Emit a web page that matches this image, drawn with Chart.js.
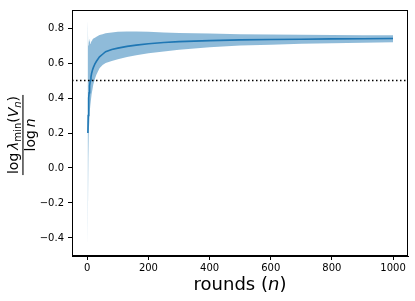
<!DOCTYPE html>
<html>
<head>
<meta charset="utf-8">
<script src="https://cdn.jsdelivr.net/npm/chart.js@4"></script>
<style>
html,body{margin:0;padding:0;background:#fff;}
#wrap{width:415px;height:301px;position:relative;}
</style>
</head>
<body>
<div id="wrap"><canvas id="c" width="415" height="301"></canvas></div>
<script>
// ---- data ----
const rounds = [1,2,3,4,5,6,7,8,10,12,14,17,20,25,30,40,50,60,80,100,130,160,200,250,300,400,500,600,700,800,900,1000];
const meanRatio = [0.20,0.20,0.30,0.36,0.40,0.43,0.45,0.47,0.50,0.52,0.54,0.56,0.575,0.595,0.61,0.635,0.65,0.665,0.677,0.685,0.695,0.702,0.71,0.717,0.722,0.728,0.732,0.734,0.736,0.738,0.739,0.74];
const lowerRatio = [-0.44,-0.30,0.05,0.15,0.22,0.26,0.29,0.32,0.36,0.39,0.42,0.45,0.48,0.51,0.535,0.57,0.588,0.60,0.612,0.621,0.635,0.645,0.656,0.666,0.676,0.69,0.70,0.705,0.71,0.713,0.716,0.718];
const upperRatio = [0.84,0.80,0.70,0.73,0.71,0.74,0.72,0.73,0.71,0.73,0.72,0.735,0.74,0.745,0.75,0.76,0.765,0.77,0.775,0.778,0.78,0.78,0.778,0.775,0.772,0.768,0.765,0.763,0.762,0.76,0.759,0.758];
const threshold = 0.5;
const xTicks = [0,200,400,600,800,1000];
const yTicks = [-0.4,-0.2,0.0,0.2,0.4,0.6,0.8];
const xRange = [-50, 1049];
const yRange = [-0.503, 0.903];

const FONT = "'DejaVu Sans', sans-serif";
// mean line starts at the second round
const pts = (ys, from) => rounds.map((n,i)=>({x:n,y:ys[i]})).slice(from||0);

const framePlugin = {
  id:'frame',
  afterDraw(chart){
    const {ctx, chartArea:a} = chart;
    ctx.save();
    ctx.strokeStyle = '#000';
    ctx.lineWidth = 1;
    ctx.strokeRect(a.left+0.5, a.top+0.5, a.right-a.left-1, a.bottom-a.top-1);
    // x label
    ctx.fillStyle = '#000';
    ctx.textBaseline = 'alphabetic';
    const xl = [['rounds (', `18px ${FONT}`], ['n', `italic 18px ${FONT}`], [')', `18px ${FONT}`]];
    let tw = 0;
    xl.forEach(p=>{ctx.font=p[1]; tw+=ctx.measureText(p[0]).width;});
    let x = (a.left+a.right)/2 - tw/2;
    xl.forEach(p=>{ctx.font=p[1]; ctx.fillText(p[0], x, 290); x+=ctx.measureText(p[0]).width;});
    // y label (fraction)
    ctx.translate(23, 135);
    ctx.rotate(-Math.PI/2);
    const F = 14, S = 10;
    const num = [
      ['log\u2009', `${F}px ${FONT}`, 0],
      ['\u03bb', `italic ${F}px ${FONT}`, 0],
      ['min', `${S}px ${FONT}`, 3],
      ['(', `${F}px ${FONT}`, 0],
      ['V', `italic ${F}px ${FONT}`, 0],
      ['n', `italic ${S}px ${FONT}`, 3],
      [')', `${F}px ${FONT}`, 0]
    ];
    const den = [
      ['log\u2009', `${F}px ${FONT}`, 0],
      ['n', `italic ${F}px ${FONT}`, 0]
    ];
    const width = arr => arr.reduce((s,p)=>{ctx.font=p[1]; return s+ctx.measureText(p[0]).width;},0);
    const draw = (arr, base) => {
      let w = width(arr); let xx = -w/2;
      arr.forEach(p=>{ctx.font=p[1]; ctx.fillText(p[0], xx, base+p[2]); xx+=ctx.measureText(p[0]).width;});
    };
    const wn = width(num);
    draw(num, -5);
    draw(den, 12);
    ctx.fillRect(-wn/2-1, -0.6, wn+2, 1.1);
    ctx.restore();
  }
};

new Chart(document.getElementById('c'), {
  type:'line',
  data:{
    datasets:[
      {label:'threshold', data:[{x:xRange[0],y:threshold},{x:xRange[1],y:threshold}], borderColor:'#000', borderWidth:1.5, borderDash:[1.5,2.5], pointRadius:0, fill:false, order:0},
      {label:'mean', data:pts(meanRatio,1), borderColor:'#1f77b4', borderWidth:1.6, pointRadius:0, fill:false, order:1, tension:0},
      {label:'lower', data:pts(lowerRatio), borderWidth:0, borderColor:'rgba(0,0,0,0)', pointRadius:0, fill:false, order:3},
      {label:'upper', data:pts(upperRatio), borderWidth:0, borderColor:'rgba(0,0,0,0)', pointRadius:0, fill:{target:2}, backgroundColor:'rgba(31,119,180,0.5)', order:2}
    ]
  },
  options:{
    responsive:false, animation:false, devicePixelRatio:1,
    layout:{padding:{left:0,top:6,right:7,bottom:0}},
    plugins:{legend:{display:false}, tooltip:{enabled:false}},
    scales:{
      x:{type:'linear', min:xRange[0], max:xRange[1],
        afterBuildTicks(s){s.ticks = xTicks.map(v=>({value:v}));},
        afterFit(s){s.height = 45;},
        grid:{display:true, drawOnChartArea:false, drawTicks:true, tickLength:4, color:'#000', lineWidth:1},
        border:{display:true, color:'#000', width:1},
        ticks:{color:'#000', font:{family:'DejaVu Sans', size:10}, padding:2, maxRotation:0, callback:v=>String(v)}
      },
      y:{type:'linear', min:yRange[0], max:yRange[1],
        afterBuildTicks(s){s.ticks = yTicks.map(v=>({value:v}));},
        afterFit(s){s.width = 72;},
        grid:{display:true, drawOnChartArea:false, drawTicks:true, tickLength:4, color:'#000', lineWidth:1},
        border:{display:true, color:'#000', width:1},
        ticks:{color:'#000', font:{family:'DejaVu Sans', size:10}, padding:4, callback:v=>v.toFixed(1).replace('-', '\u2212')}
      }
    }
  },
  plugins:[framePlugin]
});
</script>
</body>
</html>
